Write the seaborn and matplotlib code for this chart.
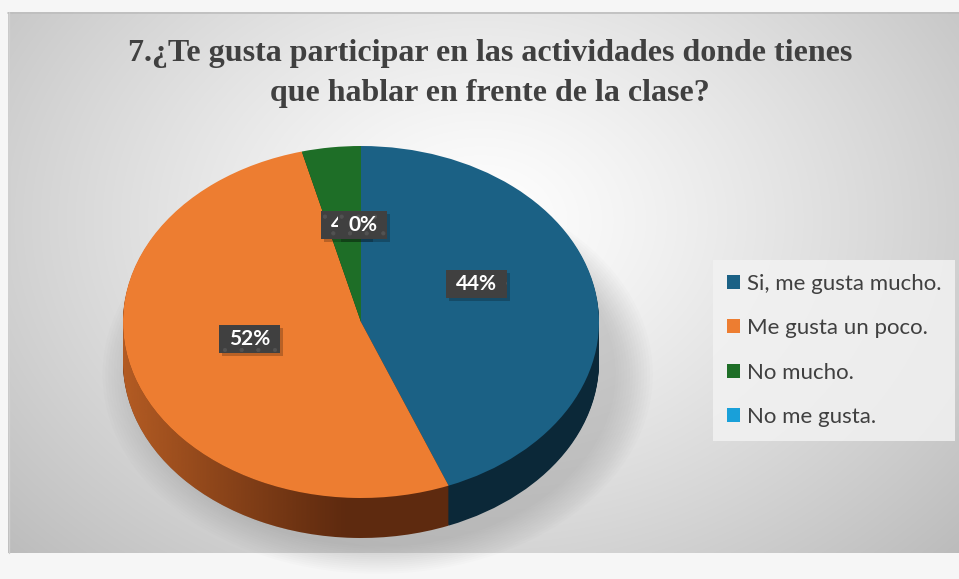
import numpy as np
import matplotlib
matplotlib.use("Agg")
import matplotlib.pyplot as plt
import matplotlib.patches as mpatches
import matplotlib.transforms as mtransforms
import seaborn as sns

# ---------------- data ----------------
title = "7.¿Te gusta participar en las actividades donde tienes\nque hablar en frente de la clase?"
categories = ["Si, me gusta mucho.", "Me gusta un poco.", "No mucho.", "No me gusta."]
values = [44, 52, 4, 0]
labels = ["44%", "52%", "4%", "0%"]
colors = ["#1b6185", "#ed7d31", "#1e6e27", "#19a0d9"]
side_colors = ["#0b2838", "#5e2a0f", "#0d3512", "#0a4a66"]

sns.set_style("white")
plt.rcParams["font.family"] = ["Lato", "DejaVu Sans"]
plt.rcParams["hatch.linewidth"] = 0.6

W, H = 959, 579
fig = plt.figure(figsize=(W / 100, H / 100), dpi=100)
fig.patch.set_facecolor("#f6f6f6")

# ---------------- background (chart area with radial gradient) ----------------
bg = fig.add_axes([0, 0, 1, 1])
bg.set_xlim(0, W)
bg.set_ylim(H, 0)
bg.axis("off")
x0, y0, x1, y1 = 8, 12, W, 553
yy, xx = np.mgrid[y0:y1, x0:x1]
rr = np.sqrt(((xx - 480) / 560.0) ** 2 + ((yy - 220) / 420.0) ** 2)
val = 1 - 0.22 * np.clip(rr, 0, 1.3) ** 1.2
img = np.dstack([val, val, val])
bg.imshow(img, extent=(x0, x1, y1, y0), aspect="auto", interpolation="bilinear")
bg.plot([x0, x1], [y0 + 0.5, y0 + 0.5], color="#bdbdbd", lw=1.2)
bg.plot([x0 + 0.5, x0 + 0.5], [y0, y1], color="#d0d0d0", lw=1.0)

# ---------------- pie axes (elliptical via unit scaling) ----------------
cx, cy = 361.0, 322.0   # pixel centre of top face
rx, ry = 238.0, 176.0   # pixel radii of top face
depth = 40.0 / ry       # side depth in y units

ax = fig.add_axes([0, 0, 1, 1])
ax.axis("off")

# soft shadow
for i in range(14):
    s = 1.0 + 0.012 * i
    e = mpatches.Ellipse((0.07, -depth - 0.07), 2 * s, 2 * s * 0.98,
                         facecolor="#7a7a7a", edgecolor="none", alpha=0.022, zorder=0)
    ax.add_patch(e)

# side walls: stacked pies offset downward
nlay = 40
for k in range(nlay):
    off = -depth * (1 - k / nlay)
    ax.pie(values, colors=side_colors, startangle=90, counterclock=False,
           radius=1.0, center=(0, off),
           wedgeprops=dict(linewidth=0, edgecolor="none", antialiased=True))

# lighter shading on left part of the side wall
t = np.linspace(np.pi, 2 * np.pi, 200)
top_arc = np.column_stack([np.cos(t), np.sin(t)])
bot_arc = np.column_stack([np.cos(t[::-1]), np.sin(t[::-1]) - depth])
side_poly = np.vstack([top_arc, bot_arc, top_arc[:1]])
clip = mpatches.Polygon(side_poly, closed=True, transform=ax.transData)
gx = np.linspace(-1, 1, 300)
alpha = np.clip((-0.05 - gx) / 0.95, 0, 1) ** 1.1 * 0.6
grad = np.zeros((2, 300, 4))
grad[..., 0] = 237 / 255
grad[..., 1] = 125 / 255
grad[..., 2] = 49 / 255
grad[..., 3] = alpha
im = ax.imshow(grad, extent=(-1, 1, -1 - depth, 0), aspect="auto", zorder=2)
im.set_clip_path(clip)

# top face
wedges, _ = ax.pie(values, colors=colors, startangle=90, counterclock=False,
                   radius=1.0, center=(0, 0),
                   wedgeprops=dict(linewidth=0, edgecolor="none", zorder=3))

ax.set_aspect("auto")
ax.set_xlim(-cx / rx, (W - cx) / rx)
ax.set_ylim(-(H - cy) / ry, cy / ry)

# ---------------- data labels ----------------
total = float(sum(values))
cum = np.cumsum([0] + values[:-1])
fig.canvas.draw()
renderer = fig.canvas.get_renderer()
box_h = 28
nudge = [(-13, -4), (13, 3), (1, 15), (2, 16)]   # screen px (right, down)
for i, (lab, v) in enumerate(zip(labels, values)):
    mid = (cum[i] + v / 2.0) / total * 2 * np.pi
    lr = 0.55
    lx = lr * np.sin(mid)
    ly = lr * np.cos(mid) + 0.09
    px, py = ax.transData.transform((lx, ly))
    px += nudge[i][0]
    py -= nudge[i][1]
    z = 6 + 3 * i
    txt = fig.text(px / W, py / H, lab, ha="center", va="center", color="white",
                   fontsize=15, fontweight="bold", zorder=z + 2)
    tw = txt.get_window_extent(renderer).width
    box_w = tw + 20
    shadow = mpatches.Rectangle((px - box_w / 2 + 3, py - box_h / 2 - 3), box_w, box_h,
                                transform=mtransforms.IdentityTransform(),
                                facecolor="black", alpha=0.22, edgecolor="none", zorder=z)
    box = mpatches.Rectangle((px - box_w / 2, py - box_h / 2), box_w, box_h,
                             transform=mtransforms.IdentityTransform(),
                             facecolor="#404040", edgecolor="#525252", linewidth=0,
                             hatch=".", zorder=z + 1)
    fig.add_artist(shadow)
    fig.add_artist(box)

# ---------------- title ----------------
fig.text(490 / W, 1 - 74 / H, title, ha="center", va="center",
         family=["Liberation Serif", "DejaVu Serif"], fontweight="bold",
         fontsize=23, color="#404040", linespacing=1.5)

# ---------------- legend ----------------
handles = [mpatches.Patch(facecolor=c, edgecolor="none") for c in colors]
leg = fig.legend(handles, categories, loc="upper left",
                 bbox_to_anchor=(713 / W, 1 - 260 / H),
                 frameon=True, fontsize=16, labelcolor="#404040",
                 handlelength=0.6, handleheight=0.6, handletextpad=0.3,
                 labelspacing=1.1, borderpad=0.62, borderaxespad=0)
leg.get_frame().set_facecolor("#f2f2f2")
leg.get_frame().set_edgecolor("none")
leg.get_frame().set_alpha(0.85)
leg.get_frame().set_boxstyle("square", pad=0)

fig.savefig("out.png", dpi=100)
